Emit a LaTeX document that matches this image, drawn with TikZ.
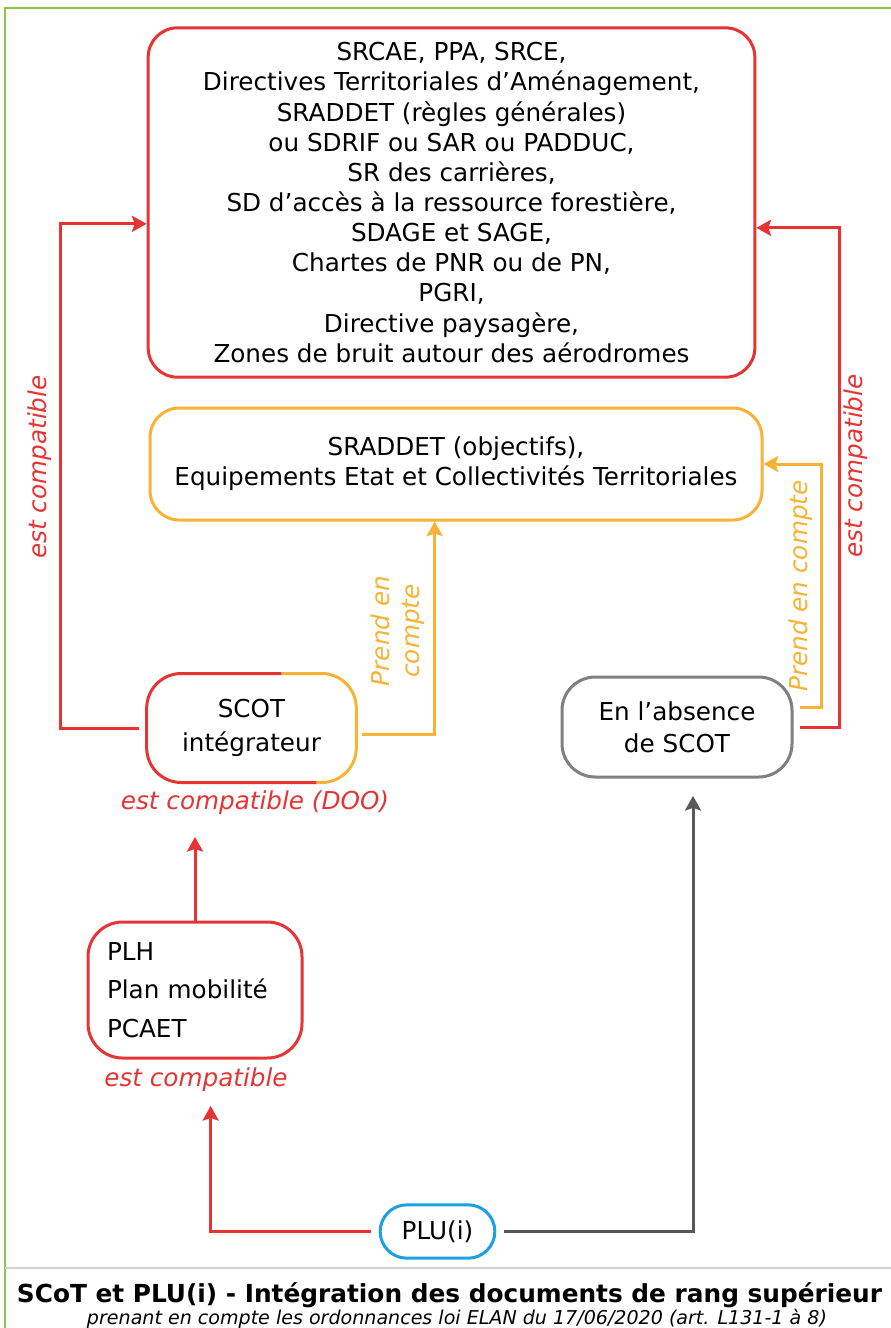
\documentclass[tikz,border=0pt]{standalone}
\usepackage{fontspec}
\setmainfont{DejaVu Sans}
\usetikzlibrary{arrows.meta}
\definecolor{cred}{RGB}{230,52,52}
\definecolor{corange}{RGB}{249,178,52}
\definecolor{cgray}{RGB}{128,128,128}
\definecolor{cdark}{RGB}{88,88,88}
\definecolor{cblue}{RGB}{28,160,226}
\definecolor{cgreen}{RGB}{141,198,63}
\definecolor{cline}{RGB}{210,210,210}

\begin{document}
\begin{tikzpicture}[x=0.75pt,y=-0.75pt,>={Stealth[length=11pt,width=12pt,inset=2pt]},
  line width=2.25pt,font=\fontsize{18.5}{22.6}\selectfont,
  box/.style={draw,rounded corners=22pt,align=center,inner sep=0pt},
  lbl/.style={font=\fontsize{18.5}{22.6}\selectfont\itshape}]
\useasboundingbox (0,0) rectangle (891,1328);
\clip (0,0) rectangle (891,1328);
\fill[white] (0,0) rectangle (891,1328);
\draw[cgreen,line width=1.5pt] (5,1330) -- (5,8) -- (900,8);
\draw[cline,line width=2pt] (5,1268) -- (900,1268);

\node[box,draw=cred,minimum width=455pt,minimum height=262pt] (regles) at (451.5,202.5) {SRCAE, PPA, SRCE,\\Directives Territoriales d’Aménagement,\\SRADDET (règles générales)\\ou SDRIF ou SAR ou PADDUC,\\SR des carrières,\\SD d’accès à la ressource forestière,\\SDAGE et SAGE,\\Chartes de PNR ou de PN,\\PGRI,\\Directive paysagère,\\Zones de bruit autour des aérodromes};
\node[box,draw=corange,minimum width=459pt,minimum height=84pt] (objectifs) at (456,464) {SRADDET (objectifs),\\Equipements Etat et Collectivités Territoriales};
\node[box,draw=none,minimum width=155pt,minimum height=79.5pt,font=\fontsize{18.5}{25.5}\selectfont] (scot) at (251.5,728) {SCOT\\intégrateur};
\draw[cred,rounded corners=26pt] ([shift={(135,0)}]scot.north west) -| (scot.south west) -- ([shift={(170,0)}]scot.south west);
\draw[corange,rounded corners=26pt] ([shift={(135,0)}]scot.north west) -| (scot.south east) -- ([shift={(170,0)}]scot.south west);
\node[box,draw=cgray,rounded corners=25pt,minimum width=172.5pt,minimum height=75pt,font=\fontsize{18.5}{24}\selectfont] (absence) at (677,727) {En l’absence\\de SCOT};
\node[box,draw=cred,rounded corners=26pt,align=left,text width=132pt,inner xsep=14.25pt,minimum height=102pt,font=\fontsize{18.5}{29}\selectfont] (plh) at (195,990) {PLH\\Plan mobilité\\PCAET};
\node[box,draw=cblue,rounded corners=20pt,minimum width=86pt,minimum height=40pt] (plu) at (437.5,1231.5) {PLU(i)};

\node[lbl,text=cred] (doo) at (255,803) {est compatible (DOO)};
\node[lbl,text=cred] (compat) at (196,1080) {est compatible};
\node[lbl,text=cred,rotate=90] (compatg) at (40,467) {est compatible};
\node[lbl,text=cred,rotate=90] (compatd) at (856,466) {est compatible};
\node[lbl,text=corange,rotate=90,align=center] (prendg) at (398,631) {Prend en\\compte};
\node[lbl,text=corange,rotate=90] (prendd) at (801,586) {Prend en compte};

\draw[cred,->] ([xshift=-6pt]scot.west) -- ++(-78,0) |- ([yshift=-16pt]regles.west);
\draw[cred,->] ([xshift=4.5pt]absence.east) -- ++(40,0) |- ([yshift=-19pt]regles.east);
\draw[corange,->] ([xshift=4pt,yshift=-5pt]scot.east) -| ([xshift=-16pt]objectifs.south);
\draw[corange,->] ([xshift=4.5pt,yshift=15pt]absence.east) -- ++(22,0) |- (objectifs.east);
\draw[cred,->,shorten >=12pt] (plh.north) -- (plh.north |- doo.south);
\draw[cred,->,shorten <=6pt,shorten >=6pt] (plu.west) -| ([xshift=11pt]compat.south);
\draw[cdark,->,shorten <=6pt,shorten >=13pt] (plu.east) -| ([xshift=12pt]absence.south);

\node[anchor=base west,font=\fontsize{18.6}{22}\selectfont\bfseries] (titre) at (11,1302) {SCoT et PLU(i) - Intégration des documents de rang supérieur};
\node[anchor=base,font=\fontsize{14.3}{17}\selectfont\itshape] (soustitre) at (457,1324) {prenant en compte les ordonnances loi ELAN du 17/06/2020 (art. L131-1 à 8)};
\end{tikzpicture}
\end{document}
